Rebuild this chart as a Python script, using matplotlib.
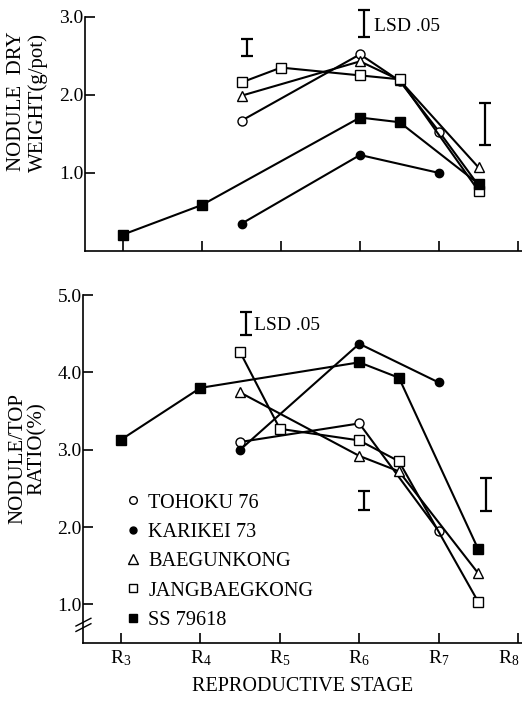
import matplotlib
matplotlib.use("Agg")
import matplotlib.pyplot as plt
import matplotlib.transforms as mtransforms

plt.rcParams["font.family"] = ["Liberation Serif", "DejaVu Serif"]
plt.rcParams["mathtext.default"] = "regular"

# ---- data ----
stages = [3, 4, 5, 6, 7, 8]
stage_labels = ["R$_3$", "R$_4$", "R$_5$", "R$_6$", "R$_7$", "R$_8$"]

names = ["TOHOKU 76", "KARIKEI 73", "BAEGUNKONG", "JANGBAEGKONG", "SS 79618"]

# nodule dry weight (g/pot)
tohoku_x_top = [4.5, 6, 6.5, 7, 7.5]
tohoku_top = [1.67, 2.52, 2.18, 1.53, 0.84]
karikei_x_top = [4.5, 6, 7]
karikei_top = [0.35, 1.23, 1.00]
baegun_x_top = [4.5, 6, 6.5, 7.5]
baegun_top = [1.99, 2.43, 2.19, 1.07]
jang_x_top = [4.5, 5, 6, 6.5, 7.5]
jang_top = [2.16, 2.35, 2.25, 2.20, 0.77]
ss_x_top = [3, 4, 6, 6.5, 7.5]
ss_top = [0.21, 0.59, 1.71, 1.65, 0.86]

# nodule/top ratio (%)
tohoku_x_bot = [4.5, 6, 7]
tohoku_bot = [3.10, 3.34, 1.95]
karikei_x_bot = [4.5, 6, 7]
karikei_bot = [3.00, 4.37, 3.87]
baegun_x_bot = [4.5, 6, 6.5, 7.5]
baegun_bot = [3.74, 2.92, 2.72, 1.40]
jang_x_bot = [4.5, 5, 6, 6.5, 7.5]
jang_bot = [4.26, 3.27, 3.12, 2.85, 1.03]
ss_x_bot = [3, 4, 6, 6.5, 7.5]
ss_bot = [3.13, 3.80, 4.13, 3.93, 1.71]

# LSD .05 bars
lsd_x_top = [4.57, 6.05, 7.58]
lsd_lo_top = [2.50, 2.74, 1.36]
lsd_hi_top = [2.72, 3.09, 1.89]
lsd_x_bot = [4.57, 6.06, 7.6]
lsd_lo_bot = [4.48, 2.22, 2.21]
lsd_hi_bot = [4.78, 2.47, 2.64]

# marker styles per cultivar
styles = [
    dict(marker="o", mfc="white", mec="black", ms=6.5),
    dict(marker="o", mfc="black", mec="black", ms=6),
    dict(marker="^", mfc="white", mec="black", ms=7.5),
    dict(marker="s", mfc="white", mec="black", ms=6.5),
    dict(marker="s", mfc="black", mec="black", ms=6.5),
]

FS = 14
LW = 1.5

fig = plt.figure(figsize=(5.22, 7.03), dpi=100)
ax1 = fig.add_axes([0.163, 0.643, 0.837, 0.333])
ax2 = fig.add_axes([0.159, 0.0853, 0.841, 0.495])


def style_axis(ax):
    for s in ["top", "right"]:
        ax.spines[s].set_visible(False)
    for s in ["left", "bottom"]:
        ax.spines[s].set_linewidth(1.2)
    ax.set_xlim(2.52, 8.05)
    ax.set_xticks(stages)
    ax.tick_params(axis="both", direction="in", length=7, width=1.2,
                   labelsize=FS, pad=2)
    ax.tick_params(axis="y", pad=1)


def draw_lsd(ax, xs, lo, hi):
    centers = [(a + b) / 2 for a, b in zip(lo, hi)]
    halves = [(b - a) / 2 for a, b in zip(lo, hi)]
    eb = ax.errorbar(xs, centers, yerr=halves, fmt="none", ecolor="black",
                     elinewidth=1.6, capsize=4, capthick=1.6)
    for art in list(eb.lines[1]) + list(eb.lines[2]):
        art.set_clip_on(False)


# ---- top panel ----
top_series = [
    (tohoku_x_top, tohoku_top), (karikei_x_top, karikei_top),
    (baegun_x_top, baegun_top), (jang_x_top, jang_top), (ss_x_top, ss_top),
]
for (xs, ys), st, nm in zip(top_series, styles, names):
    ax1.plot(xs, ys, color="black", lw=LW, **st)

style_axis(ax1)
ax1.set_ylim(0, 3.0)
ax1.set_yticks([1.0, 2.0, 3.0])
ax1.set_yticklabels(["1.0", "2.0", "3.0"])
ax1.set_xticklabels([])
draw_lsd(ax1, lsd_x_top, lsd_lo_top, lsd_hi_top)
ax1.text(6.18, 2.88, "LSD .05", fontsize=FS, va="center", ha="left")

# ---- bottom panel ----
bot_series = [
    (tohoku_x_bot, tohoku_bot), (karikei_x_bot, karikei_bot),
    (baegun_x_bot, baegun_bot), (jang_x_bot, jang_bot), (ss_x_bot, ss_bot),
]
handles = []
for (xs, ys), st, nm in zip(bot_series, styles, names):
    ax2.plot(xs, ys, color="black", lw=LW, **st)
    h, = ax2.plot([], [], ls="none", marker=st["marker"], mfc=st["mfc"],
                  mec="black", ms=st["ms"] - 1, label=nm)
    handles.append(h)

style_axis(ax2)
ax2.set_ylim(0.5, 5.0)
ax2.set_yticks([1.0, 2.0, 3.0, 4.0, 5.0])
ax2.set_yticklabels(["1.0", "2.0", "3.0", "4.0", "5.0"])
ax2.set_xticklabels(stage_labels)
ax2.tick_params(axis="x", pad=4)
# keep the last stage label inside the picture
last = ax2.get_xticklabels()[-1]
last.set_transform(last.get_transform() +
                   mtransforms.ScaledTranslation(-9 / 100, 0, fig.dpi_scale_trans))
draw_lsd(ax2, lsd_x_bot, lsd_lo_bot, lsd_hi_bot)
ax2.text(4.67, 4.61, "LSD .05", fontsize=FS, va="center", ha="left")

ax2.legend(handles=handles, loc="upper left", bbox_to_anchor=(0.1, 0.43),
           frameon=False, fontsize=14.6, handlelength=0.6, handletextpad=0.45,
           borderpad=0, borderaxespad=0, labelspacing=0.5)

# axis break marks on the left spine
trans = mtransforms.blended_transform_factory(ax2.transAxes, ax2.transData)
for yc in [0.70, 0.77]:
    ax2.plot([-0.016, 0.018], [yc - 0.05, yc + 0.05], color="black", lw=1.0,
             transform=trans, clip_on=False)

ax2.set_xlabel("REPRODUCTIVE STAGE", fontsize=14.5, labelpad=6)

# y-axis labels (two lines each)
fig.text(17 / 522, 1 - 101 / 703, "NODULE  DRY", rotation=90, fontsize=15,
         ha="center", va="center")
fig.text(38 / 522, 1 - 102 / 703, "WEIGHT(g/pot)", rotation=90, fontsize=15,
         ha="center", va="center")
fig.text(18 / 522, 1 - 459 / 703, "NODULE/TOP", rotation=90, fontsize=15,
         ha="center", va="center")
fig.text(37 / 522, 1 - 449 / 703, "RATIO(%)", rotation=90, fontsize=15,
         ha="center", va="center")

fig.savefig("out.png", dpi=100)
